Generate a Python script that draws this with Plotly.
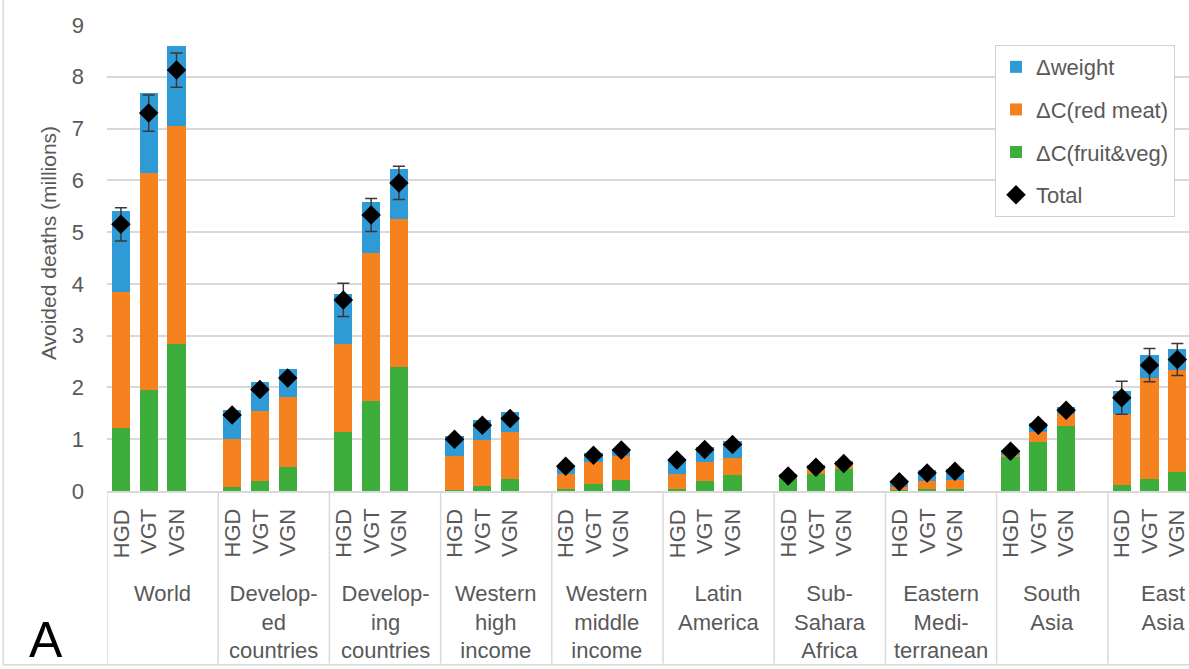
import plotly.graph_objects as go

# Regions (group labels) and diet scenarios within each region
regions = [
    "World",
    "Develop-<br>ed<br>countries",
    "Develop-<br>ing<br>countries",
    "Western<br>high<br>income",
    "Western<br>middle<br>income",
    "Latin<br>America",
    "Sub-<br>Sahara<br>Africa",
    "Eastern<br>Medi-<br>terranean",
    "South<br>Asia",
    "East<br>Asia",
]
scenarios = ["HGD", "VGT", "VGN"]

# Stacked components (millions of avoided deaths), region by region, HGD/VGT/VGN
fruit_veg = [1.21, 1.96, 2.83,  0.07, 0.19, 0.46,  1.14, 1.74, 2.40,
             0.02, 0.10, 0.24,  0.04, 0.13, 0.21,  0.03, 0.19, 0.30,
             0.27, 0.33, 0.42,  0.02, 0.04, 0.04,  0.66, 0.95, 1.25,
             0.11, 0.23, 0.36]
red_meat = [2.64, 4.19, 4.22,  0.93, 1.35, 1.35,  1.69, 2.85, 2.85,
            0.65, 0.88, 0.90,  0.28, 0.43, 0.47,  0.29, 0.37, 0.34,
            0.02, 0.12, 0.10,  0.05, 0.15, 0.18,  0.04, 0.19, 0.23,
            1.37, 1.96, 1.98]
weight = [1.56, 1.54, 1.54,  0.56, 0.57, 0.55,  0.98, 0.99, 0.97,
          0.40, 0.40, 0.39,  0.18, 0.17, 0.14,  0.29, 0.29, 0.33,
          0.03, 0.06, 0.06,  0.12, 0.21, 0.20,  0.10, 0.17, 0.15,
          0.45, 0.43, 0.41]
total = [5.15, 7.30, 8.13,  1.47, 1.96, 2.18,  3.69, 5.33, 5.95,
         1.00, 1.27, 1.40,  0.48, 0.69, 0.79,  0.60, 0.80, 0.90,
         0.29, 0.46, 0.53,  0.18, 0.35, 0.38,  0.77, 1.27, 1.56,
         1.80, 2.43, 2.54]
total_err = [0.32, 0.35, 0.33,  0.05, 0.06, 0.06,  0.32, 0.32, 0.32,
             0.04, 0.04, 0.04,  0.03, 0.03, 0.03,  0.03, 0.03, 0.03,
             0.02, 0.02, 0.02,  0.02, 0.02, 0.02,  0.03, 0.04, 0.04,
             0.32, 0.32, 0.31]

SLOTS = 4  # three bars plus one empty slot per region
xpos = [SLOTS * g + j + 0.5 for g in range(len(regions)) for j in range(len(scenarios))]

FONT = "Arial, Liberation Sans, sans-serif"
GREY = "#595959"
BLUE, ORANGE, GREEN = "#2e9bd6", "#f5821f", "#3dae3b"

fig = go.Figure()
bar_w = 0.65
fig.add_trace(go.Bar(x=xpos, y=fruit_veg, name="ΔC(fruit&veg)", marker_color=GREEN,
                     width=bar_w, marker_line_width=0, legendrank=3, legendgroup="c"))
fig.add_trace(go.Bar(x=xpos, y=red_meat, name="ΔC(red meat)", marker_color=ORANGE,
                     width=bar_w, marker_line_width=0, legendrank=2, legendgroup="b"))
fig.add_trace(go.Bar(x=xpos, y=weight, name="Δweight", marker_color=BLUE,
                     width=bar_w, marker_line_width=0, legendrank=1, legendgroup="a"))
fig.add_trace(go.Scatter(
    x=xpos, y=total, name="Total", mode="markers", legendrank=4, legendgroup="d",
    marker=dict(symbol="diamond", size=15, color="black"),
    error_y=dict(type="data", array=total_err, color="#40363a", thickness=1.5, width=6),
))

n_slots_visible = 38.92

# separators between region groups, running down through the label area
for g in range(len(regions)):
    fig.add_shape(type="line", xref="x", yref="paper", x0=SLOTS * g, x1=SLOTS * g,
                  y0=0, y1=-0.370, line=dict(color="#d9d9d9", width=1.5))

# rotated scenario labels under each bar
for i, x in enumerate(xpos):
    fig.add_annotation(x=x, xref="x", y=-0.034, yref="paper", yanchor="top",
                       text=scenarios[i % 3], textangle=-90, showarrow=False,
                       font=dict(family=FONT, size=22, color=GREY))

# region names
for g, name in enumerate(regions):
    fig.add_annotation(x=SLOTS * g + 2, xref="x", y=-0.188, yref="paper", yanchor="top",
                       text=name, showarrow=False,
                       font=dict(family=FONT, size=22, color=GREY))

# y-axis title
fig.add_annotation(x=-0.0545, xref="paper", y=0.532, yref="paper",
                   text="Avoided deaths (millions)",
                   textangle=-90, showarrow=False, xanchor="center", yanchor="middle",
                   font=dict(family=FONT, size=21, color=GREY))
# panel letter
fig.add_annotation(x=-0.056, xref="paper", y=-0.320, yref="paper", text="A",
                   showarrow=False, xanchor="center", yanchor="middle",
                   font=dict(family=FONT, size=50, color="black"))

# outer chart border
fig.add_shape(type="rect", xref="paper", yref="paper", x0=-0.096, x1=1.05,
              y0=-0.373, y1=1.1, line=dict(color="#d9d9d9", width=1.5))

fig.update_layout(
    width=1189, height=669,
    margin=dict(l=107, r=0, t=25, b=178),
    barmode="stack", bargap=0,
    plot_bgcolor="white", paper_bgcolor="white",
    font=dict(family=FONT, size=22, color=GREY),
    showlegend=True,
    legend=dict(x=0.8207, y=0.957, xanchor="left", yanchor="top",
                bordercolor="#d0d0d0", borderwidth=1, bgcolor="white",
                traceorder="grouped", tracegroupgap=11,
                font=dict(family=FONT, size=22, color=GREY)),
    xaxis=dict(range=[0, n_slots_visible], showticklabels=False, showgrid=False,
               zeroline=False, showline=True, linecolor="#d9d9d9", linewidth=1.5,
               ticks=""),
    yaxis=dict(range=[0, 9], dtick=1, showgrid=True, gridcolor="#d9d9d9", gridwidth=1.5,
               zeroline=False, showline=False, ticks="", ticklabelstandoff=22,
               tickfont=dict(family=FONT, size=22, color=GREY)),
)

fig.write_html("out.html")
